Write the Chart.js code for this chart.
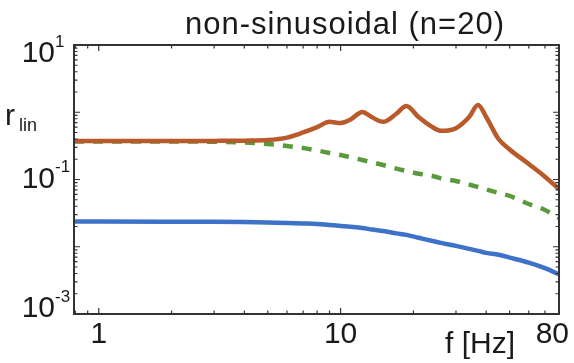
<!DOCTYPE html>
<html>
<head>
<meta charset="utf-8">
<script src="https://cdn.jsdelivr.net/npm/chart.js@4/dist/chart.umd.min.js"></script>
<style>
  html, body { margin: 0; padding: 0; background: #fff; }
  #wrap { width: 574px; height: 363px; }
</style>
</head>
<body>
<div id="wrap"><canvas id="chart"></canvas></div>
<script>
// frequencies (Hz) shared by all three curves
var freqs = [0.79, 1, 2, 3, 4, 5, 6, 7, 8, 9, 10, 11, 12.3, 13.5, 15, 17, 18.7, 21, 24, 26, 30, 34, 37, 40, 45, 50, 60, 70, 80];

var orangeVals = [0.374, 0.374, 0.374, 0.375, 0.378, 0.386, 0.42, 0.5, 0.6, 0.72, 0.69, 0.78, 1.01, 0.84, 0.72, 0.95, 1.24, 0.85, 0.6, 0.53, 0.58, 0.85, 1.28, 0.85, 0.40, 0.28, 0.17, 0.11, 0.072];
var greenVals  = [0.367, 0.367, 0.367, 0.364, 0.355, 0.337, 0.315, 0.294, 0.27, 0.248, 0.231, 0.214, 0.195, 0.18, 0.164, 0.145, 0.134, 0.122, 0.113, 0.104, 0.095, 0.084, 0.0774, 0.071, 0.063, 0.057, 0.0432, 0.0352, 0.0268];
var blueVals   = [0.0237, 0.0237, 0.0236, 0.0235, 0.0233, 0.023, 0.0226, 0.0222, 0.0218, 0.0211, 0.0204, 0.0198, 0.019, 0.018, 0.0171, 0.0158, 0.015, 0.0136, 0.0122, 0.0114, 0.0103, 0.0093, 0.0087, 0.0081, 0.0076, 0.0069, 0.0058, 0.0048, 0.0039];

var xTicks = [1, 10, 80];
var yTicks = [10, 0.1, 0.001];
var yExp = ['1', '-1', '-3'];

function pts(vals) {
    return freqs.map(function (f, i) { return { x: f, y: vals[i] }; });
}

var frame = {
    id: 'frame',
    afterDraw: function (chart) {
        var ctx = chart.ctx, a = chart.chartArea;
        var xs = chart.scales.x, ys = chart.scales.y;
        ctx.save();
        ctx.strokeStyle = '#333';
        ctx.lineWidth = 2;
        ctx.strokeRect(a.left, a.top, a.right - a.left, a.bottom - a.top);

        // inward ticks on all four sides
        ctx.lineWidth = 1.2;
        ctx.beginPath();
        var d, m, v, p, len;
        for (d = -1; d <= 1; d++) {
            for (m = 1; m <= 9; m++) {
                v = m * Math.pow(10, d);
                if (v < xs.min || v > xs.max) continue;
                p = xs.getPixelForValue(v);
                len = m === 1 ? 6 : 3.5;
                ctx.moveTo(p, a.bottom); ctx.lineTo(p, a.bottom - len);
                ctx.moveTo(p, a.top); ctx.lineTo(p, a.top + len);
            }
        }
        for (d = -3; d <= 1; d++) {
            for (m = 1; m <= 9; m++) {
                v = m * Math.pow(10, d);
                if (v < ys.min || v > ys.max) continue;
                p = ys.getPixelForValue(v);
                len = m === 1 ? 6 : 3.5;
                ctx.moveTo(a.left, p); ctx.lineTo(a.left + len, p);
                ctx.moveTo(a.right, p); ctx.lineTo(a.right - len, p);
            }
        }
        ctx.stroke();

        ctx.fillStyle = '#1a1a1a';
        // y tick labels 10^n
        ctx.textBaseline = 'middle';
        yTicks.forEach(function (t, i) {
            var y = Math.min(Math.max(ys.getPixelForValue(t), a.top + 9), a.bottom - 5);
            ctx.font = '30px "Liberation Sans", Arial, sans-serif';
            ctx.textAlign = 'right';
            ctx.fillText('10', 55, y);
            ctx.font = '17px "Liberation Sans", Arial, sans-serif';
            ctx.textAlign = 'left';
            ctx.fillText(yExp[i], 55, y - 12);
        });

        // x tick labels
        ctx.font = '30px "Liberation Sans", Arial, sans-serif';
        ctx.textBaseline = 'top';
        xTicks.forEach(function (t) {
            var x = xs.getPixelForValue(t);
            ctx.textAlign = 'center';
            if (x + 16 > chart.width) { ctx.textAlign = 'right'; x = chart.width - 5; }
            ctx.fillText(String(t), x, a.bottom + 6);
        });

        // axis labels
        ctx.textAlign = 'left';
        ctx.textBaseline = 'alphabetic';
        ctx.fillText('f [Hz]', 445, 353);
        ctx.fillText('r', 5, 125);
        ctx.font = '18px "Liberation Sans", Arial, sans-serif';
        ctx.fillText('lin', 19, 131);

        // title
        ctx.font = '31px "Liberation Sans", Arial, sans-serif';
        ctx.letterSpacing = '1px';
        ctx.textAlign = 'center';
        ctx.fillText('non-sinusoidal (n=20)', 345, 34);
        ctx.restore();
    }
};

new Chart(document.getElementById('chart'), {
    type: 'scatter',
    data: {
        datasets: [
            { data: pts(orangeVals), borderColor: '#b85a2a', borderWidth: 4.5, showLine: true, pointRadius: 0, cubicInterpolationMode: 'monotone' },
            { data: pts(greenVals), borderColor: '#5a9a3c', borderWidth: 4.5, borderDash: [10, 9], showLine: true, pointRadius: 0, cubicInterpolationMode: 'monotone' },
            { data: pts(blueVals), borderColor: '#3e72c8', borderWidth: 4.5, showLine: true, pointRadius: 0, cubicInterpolationMode: 'monotone' }
        ]
    },
    options: {
        responsive: true,
        maintainAspectRatio: false,
        animation: false,
        layout: { padding: { left: 74, right: 15, top: 45, bottom: 49 } },
        plugins: { legend: { display: false }, tooltip: { enabled: false } },
        scales: {
            x: { type: 'logarithmic', min: 0.79, max: 80, display: false },
            y: { type: 'logarithmic', min: 0.001, max: 10, display: false }
        }
    },
    plugins: [frame]
});
</script>
</body>
</html>
